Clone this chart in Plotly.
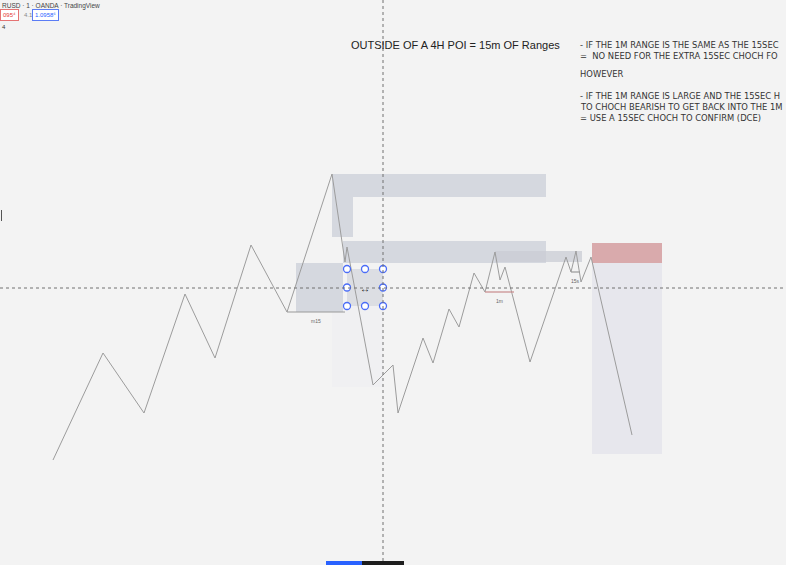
import plotly.graph_objects as go

# ---- data (chart units: x = time position, y = price level, screen-style, top = 0) ----
zig_x = [53, 103, 144, 185, 215, 251, 287, 332, 345, 347, 373, 393, 398, 423, 433, 449,
         459, 474, 485, 495, 500, 505, 530, 566, 571, 576, 581, 591, 632]
zig_y = [460, 353, 413, 294, 358, 245, 312, 174, 262, 247, 385, 365, 413, 338, 363, 309,
         327, 273, 292, 252, 280, 267, 362, 257, 272, 251, 282, 257, 435]

# zones: x0, x1, y0, y1
gray_zones = [
    (332, 546, 174, 197),
    (332, 353, 197, 237),
    (343, 546, 241, 263),
    (296, 343, 263, 312),
]
band_zone = (495, 582, 251, 262)
select_zone = (347, 383, 269, 306)
faint_zone = (332, 383, 306, 387)
supply_zone = (592, 662, 243, 263)
target_zone = (592, 662, 263, 454)

cross_x = 383
cross_y = 288

levels = [  # x0, x1, y, color, label
    (287, 345, 312, "#9a9a9a", "m15"),
    (485, 514, 292, "#c98a8c", "1m"),
    (571, 580, 272, "#9a9a9a", "15s"),
]

title_text = "OUTSIDE OF A 4H POI = 15m OF Ranges"
note_lines = [
    (45, "- IF THE 1M RANGE IS THE SAME AS THE 15SEC"),
    (56, "=  NO NEED FOR THE EXTRA 15SEC CHOCH FO"),
    (74, "HOWEVER"),
    (96, "- IF THE 1M RANGE IS LARGE AND THE 15SEC H"),
    (107, "TO CHOCH BEARISH TO GET BACK INTO THE 1M"),
    (118, "= USE A 15SEC CHOCH TO CONFIRM (DCE)"),
]

W, H = 786, 565
fig = go.Figure()

shapes = []
def rect(z, fill, opacity=1.0):
    x0, x1, y0, y1 = z
    shapes.append(dict(type="rect", x0=x0, x1=x1, y0=y0, y1=y1, fillcolor=fill,
                       opacity=opacity, line=dict(width=0), layer="below"))

rect(faint_zone, "#f0f0f2")
rect(target_zone, "#e7e7ed")
rect(supply_zone, "#d9aaac")
for z in gray_zones:
    rect(z, "#d5d8df")
rect(band_zone, "#c9ccd4", opacity=0.75)
rect(select_zone, "#dcdee3")

# crosshair
shapes.append(dict(type="line", x0=cross_x, x1=cross_x, y0=0, y1=H,
                   line=dict(color="#707070", width=1, dash="dot")))
shapes.append(dict(type="line", x0=0, x1=W, y0=cross_y, y1=cross_y,
                   line=dict(color="#707070", width=1, dash="dot")))

for x0, x1, y, c, lab in levels:
    shapes.append(dict(type="line", x0=x0, x1=x1, y0=y, y1=y, line=dict(color=c, width=1.2)))

# bottom scrollbar pieces
shapes.append(dict(type="rect", x0=326, x1=362, y0=561, y1=565, fillcolor="#2962ff", line=dict(width=0)))
shapes.append(dict(type="rect", x0=362, x1=404, y0=561, y1=565, fillcolor="#1e1e1e", line=dict(width=0)))
# left edge mark
shapes.append(dict(type="line", x0=1.5, x1=1.5, y0=210, y1=221, line=dict(color="#555", width=1)))

fig.add_trace(go.Scatter(x=zig_x, y=zig_y, mode="lines",
                         line=dict(color="#9c9c9c", width=1), hoverinfo="skip"))

# selection handles
hx, hy = [], []
sx0, sx1, sy0, sy1 = select_zone
mx, my = (sx0 + sx1) / 2, (sy0 + sy1) / 2
for px in (sx0, mx, sx1):
    for py in (sy0, my, sy1):
        if not (px == mx and py == my):
            hx.append(px); hy.append(py)
fig.add_trace(go.Scatter(x=hx, y=hy, mode="markers",
                         marker=dict(size=7, color="white", line=dict(color="#4a6cf7", width=1.3)),
                         hoverinfo="skip"))

ann = []
ann.append(dict(x=mx, y=my, text="↔", showarrow=False, font=dict(size=10, color="#111")))
for x0, x1, y, c, lab in levels:
    ann.append(dict(x=(x0 + x1) / 2, y=y + 4, text=lab, showarrow=False,
                    yanchor="top", font=dict(size=5, color="#666", family="Liberation Sans")))

ann.append(dict(x=349, y=45, text=title_text, showarrow=False, xanchor="left", yanchor="middle",
                font=dict(size=11, color="#222", family="Liberation Sans")))
for y, t in note_lines:
    ann.append(dict(x=578, y=y, text=t, showarrow=False, xanchor="left", yanchor="middle",
                    font=dict(size=8.4, color="#333", family="DejaVu Sans")))

# header
ann.append(dict(x=0, y=6, text="RUSD · 1 · OANDA · TradingView", showarrow=False, xanchor="left",
                yanchor="middle", font=dict(size=6.5, color="#444", family="Liberation Sans")))
ann.append(dict(x=0, y=15, text="095⁴", showarrow=False, xanchor="left", yanchor="middle",
                bordercolor="#e57373", borderwidth=1, borderpad=2, bgcolor="#fff",
                font=dict(size=6, color="#e53935", family="Liberation Sans")))
ann.append(dict(x=22, y=15, text="4.1", showarrow=False, xanchor="left", yanchor="middle",
                font=dict(size=6, color="#888", family="Liberation Sans")))
ann.append(dict(x=32, y=15, text="1.0958⁶", showarrow=False, xanchor="left", yanchor="middle",
                bordercolor="#5b7cf5", borderwidth=1, borderpad=2, bgcolor="#fff",
                font=dict(size=6, color="#2962ff", family="Liberation Sans")))
ann.append(dict(x=0, y=27, text="4", showarrow=False, xanchor="left", yanchor="middle",
                font=dict(size=6, color="#333", family="Liberation Sans")))

fig.update_layout(
    width=W, height=H, margin=dict(l=0, r=0, t=0, b=0),
    paper_bgcolor="#f3f3f3", plot_bgcolor="#f3f3f3",
    showlegend=False, shapes=shapes, annotations=ann,
    xaxis=dict(range=[0, W], visible=False, fixedrange=True),
    yaxis=dict(range=[H, 0], visible=False, fixedrange=True),
)
fig.write_html("out.html", config={"displayModeBar": False})
